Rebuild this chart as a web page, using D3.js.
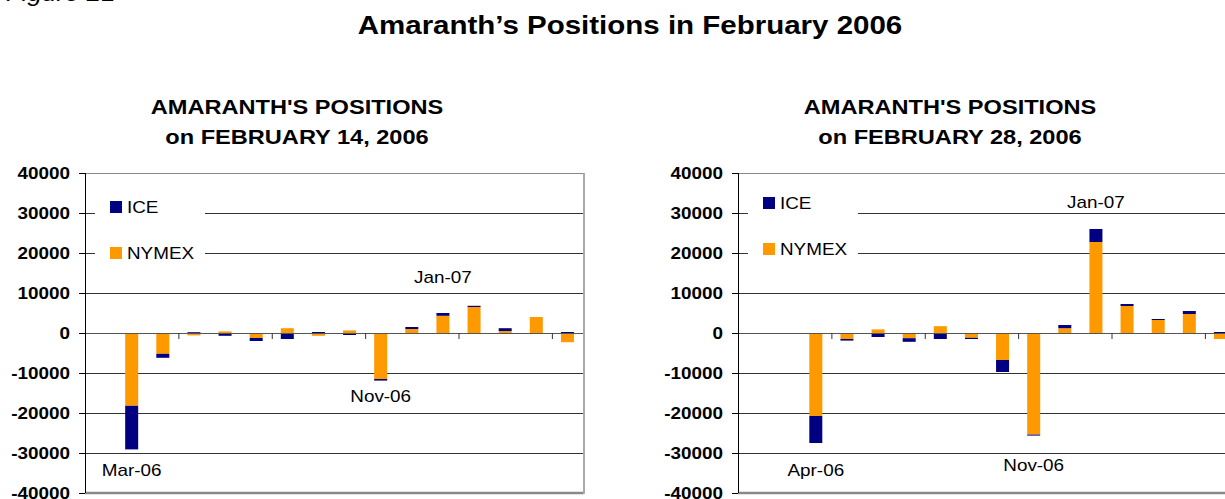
<!DOCTYPE html>
<html><head><meta charset="utf-8">
<script src="https://cdn.jsdelivr.net/npm/d3@7"></script>
<style>
body{margin:0;background:#fff;overflow:hidden}
text{font-family:Arial,"Liberation Sans",sans-serif;fill:#000}
</style>
</head><body>
<svg id="c" width="1225" height="499"></svg>
<script>
// ---------------- DATA ----------------
const categories = ["Feb-06","Mar-06","Apr-06","May-06","Jun-06","Jul-06","Aug-06","Sep-06",
                    "Oct-06","Nov-06","Dec-06","Jan-07","Feb-07","Mar-07","Apr-07","May-07"];
const seriesNames = ["ICE","NYMEX"];
// February 14, 2006
const nymexFeb14 = [0,-18200,-5200,-600,400,-1250,1200,-700,650,-11500,1000,4300,6500,500,4000,-2300];
const iceFeb14   = [0,-10900,-1000,200,-700,-750,-1500,250,-500,-400,500,700,300,700,-150,250];
// February 28, 2006
const nymexFeb28 = [0,0,-20750,-1500,900,-1300,1700,-1200,-6750,-25400,1200,22750,6750,3250,4750,-1500];
const iceFeb28   = [0,0,-6750,-400,-1000,-900,-1500,-300,-3000,-250,800,3250,500,250,750,250];
const yTicks = [40000,30000,20000,10000,0,-10000,-20000,-30000,-40000];
const labelsFeb14 = ["Mar-06","Nov-06","Jan-07"];
const labelsFeb28 = ["Apr-06","Nov-06","Jan-07"];
const mainTitle = "Amaranth\u2019s Positions in February 2006";
const figureLabel = "Figure 21";

// ---------------- LAYOUT ----------------
const colors = {ICE:"#000080", NYMEX:"#FF9900"};
const SX = 1.18;  // horizontal text stretch seen in the picture
const svg = d3.select("#c");

function stext(g, x, y, str, size, weight, anchor, style) {
  return g.append("text")
    .attr("transform", `translate(${x},${y}) scale(${SX},1)`)
    .attr("text-anchor", anchor)
    .style("font-size", size + "px")
    .style("font-weight", weight)
    .style("font-style", style || "normal")
    .text(str);
}

stext(svg, 6, 1, figureLabel, 22, "normal", "start", "italic");
stext(svg, 630, 34, mainTitle, 25, "bold", "middle");

function drawChart(c) {
  const g = svg.append("g");
  const W = 498, top = 173, bottom = 493;
  const x = d3.scaleBand().domain(categories).range([c.x0, c.x0 + W]).padding(0);
  const xb = d3.scaleLinear().domain([0, categories.length]).range([c.x0, c.x0 + W]);
  const y = d3.scaleLinear().domain([-40000, 40000]).range([bottom, top]);
  const barW = 13;

  // titles
  stext(g, c.x0 + 212, 114, "AMARANTH'S POSITIONS", 20, "bold", "middle");
  stext(g, c.x0 + 212, 144, c.sub, 20, "bold", "middle");

  // gridlines
  const grid = g.append("g").attr("transform", `translate(${c.x0},0)`)
    .call(d3.axisLeft(y).tickValues(yTicks.filter(t => t !== 0 && Math.abs(t) !== 40000))
      .tickSize(-W).tickFormat(""));
  grid.select(".domain").remove();
  grid.selectAll("line").attr("stroke", "#333").attr("stroke-width", 1).attr("shape-rendering","crispEdges");

  // top border
  g.append("line").attr("x1", c.x0).attr("x2", c.x0 + W).attr("y1", y(40000)).attr("y2", y(40000))
    .attr("stroke", "#888").attr("shape-rendering","crispEdges");
  // bottom border
  g.append("line").attr("x1", c.x0).attr("x2", c.x0 + W + 1).attr("y1", y(-40000)).attr("y2", y(-40000))
    .attr("stroke", "#8a8a8a").attr("stroke-width", 2.5);
  // right border
  g.append("line").attr("x1", c.x0 + W + 1).attr("x2", c.x0 + W + 1).attr("y1", y(40000)).attr("y2", y(-40000) + 1)
    .attr("stroke", "#aaa").attr("stroke-width", 2);

  // bars
  const rows = categories.map((cat, i) => ({cat, NYMEX: c.nymex[i], ICE: c.ice[i]}));
  const stack = d3.stack().keys(["NYMEX","ICE"]).offset(d3.stackOffsetDiverging)(rows);
  g.append("g").selectAll("g").data(stack).join("g")
    .attr("fill", s => colors[s.key])
    .selectAll("rect").data(s => s).join("rect")
    .attr("x", d => x(d.data.cat) + (x.bandwidth() - barW) / 2)
    .attr("width", barW)
    .attr("y", d => y(Math.max(d[0], d[1])))
    .attr("height", d => Math.abs(y(d[0]) - y(d[1])));

  // legend box
  g.append("rect").attr("x", c.x0 + 10).attr("y", c.legY - 14).attr("width", 110).attr("height", 82)
    .attr("fill", "#fff");
  ["ICE","NYMEX"].forEach((k, i) => {
    g.append("rect").attr("x", c.x0 + 25).attr("y", c.legY + i * 46).attr("width", 12).attr("height", 12)
      .attr("fill", colors[k]);
    stext(g, c.x0 + 42, c.legY + i * 46 + 12, k, 16, "normal", "start");
  });

  // zero axis with category ticks
  const xa = g.append("g").attr("transform", `translate(0,${y(0)})`)
    .call(d3.axisBottom(xb).tickValues([0,3,6,9,12,15]).tickSize(6).tickFormat(""));
  xa.select(".domain").attr("stroke", "#555").attr("d", `M${c.x0},0.5H${c.x0 + W}`);
  xa.selectAll("line").attr("stroke", "#333");

  // y axis
  const ya = g.append("g").attr("transform", `translate(${c.x0},0)`)
    .call(d3.axisLeft(y).tickValues(yTicks).tickSize(6).tickPadding(0).tickFormat(d => String(d)));
  ya.select(".domain").attr("stroke", "#000").attr("d", `M0.5,${top}V${bottom}`);
  ya.selectAll("line").attr("stroke", "#000");
  ya.selectAll("text")
    .attr("x", -15 / SX).attr("dy", "0.36em")
    .attr("transform", `scale(${SX},1)`)
    .style("font-size", "16px").style("font-weight", "bold")
    .attr("fill", "#000")
    .style("font-family", 'Arial,"Liberation Sans",sans-serif');

  // data labels (month names)
  c.labels.forEach((lab, i) => {
    stext(g, x(lab) + x.bandwidth() / 2, y(c.labelPos[i]) + 6, lab, 16, "normal", "middle");
  });
}

drawChart({x0: 85, sub: "on FEBRUARY 14, 2006", nymex: nymexFeb14, ice: iceFeb14, legY: 201,
           labels: labelsFeb14, labelPos: [-34250, -15750, 14000]});
drawChart({x0: 738, sub: "on FEBRUARY 28, 2006", nymex: nymexFeb28, ice: iceFeb28, legY: 197,
           labels: labelsFeb28, labelPos: [-34250, -33000, 32750]});
</script>
</body></html>
